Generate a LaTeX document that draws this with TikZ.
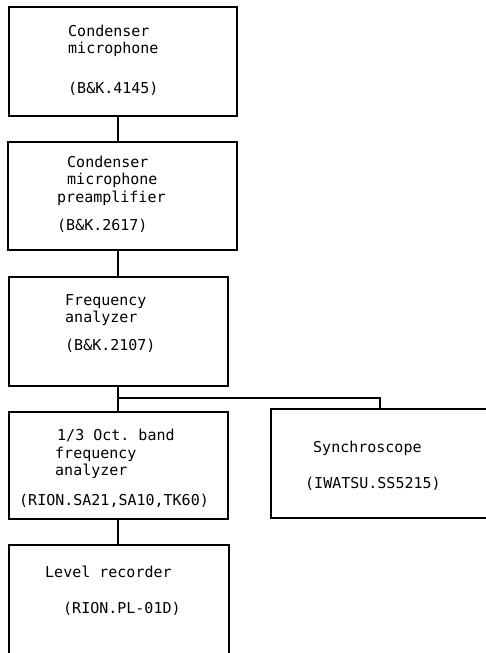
\documentclass[tikz,border=0pt]{standalone}
\usepackage{fontspec}
\setmonofont{DejaVu Sans Mono}

\begin{document}
\begin{tikzpicture}[x=1pt,y=-1pt,
    box/.style={draw,line width=1.1pt,inner sep=0pt},
    txt/.style={align=left,anchor=base west,inner sep=0pt,
      font=\ttfamily\fontsize{15}{17.5}\selectfont},
    wire/.style={line width=1.1pt}]
  \useasboundingbox (0,0) rectangle (486,653);
  \clip (0,0) rectangle (486,653);
  % instruments
  \node[box,minimum width=228pt,minimum height=109pt] (mic)   at (123,61.5)  {};
  \node[box,minimum width=229pt,minimum height=108pt] (pre)   at (122.5,196) {};
  \node[box,minimum width=219pt,minimum height=109pt] (ana)   at (118.5,331.5) {};
  \node[box,minimum width=219pt,minimum height=107pt] (oct)   at (118.5,465.5) {};
  \node[box,minimum width=229pt,minimum height=109pt] (scope) at (385.5,463.5) {};
  \node[box,minimum width=220pt,minimum height=130pt] (rec)   at (119,610)   {};
  % labels (anchored at the baseline of their last line)
  \node[txt] (micT) at (68,93) {Condenser\\microphone\\[22pt](B\&K.4145)};
  \node[txt] (preT) at (57,230)
    {\hspace*{10pt}Condenser\\\hspace*{10pt}microphone\\preamplifier\\[10.5pt](B\&K.2617)};
  \node[txt] (anaT) at (65,350) {Frequency\\analyzer\\[10pt](B\&K.2107)};
  \node[txt] (octT) at (19,505)
    {\hspace*{38pt}1/3 Oct. band\\\hspace*{36pt}frequency\\\hspace*{36pt}analyzer\\[12pt](RION.SA21,SA10,TK60)};
  \node[txt] (scopeT) at (305,488) {\hspace*{8pt}Synchroscope\\[18.5pt](IWATSU.SS5215)};
  \node[txt] (recT) at (45,613) {Level recorder\\[18.5pt]\hspace*{18pt}(RION.PL-01D)};
  % signal path
  \coordinate (trunk) at (118,0);
  \coordinate (tap) at (380,0);
  \coordinate (tee) at (118,398);
  \draw[wire] (mic.south -| trunk) -- (pre.north -| trunk);
  \draw[wire] (pre.south -| trunk) -- (ana.north -| trunk);
  \draw[wire] (ana.south -| trunk) -- (oct.north -| trunk);
  \draw[wire] (tee) -| (scope.north -| tap);
  \draw[wire] (oct.south -| trunk) -- (rec.north -| trunk);
\end{tikzpicture}
\end{document}
